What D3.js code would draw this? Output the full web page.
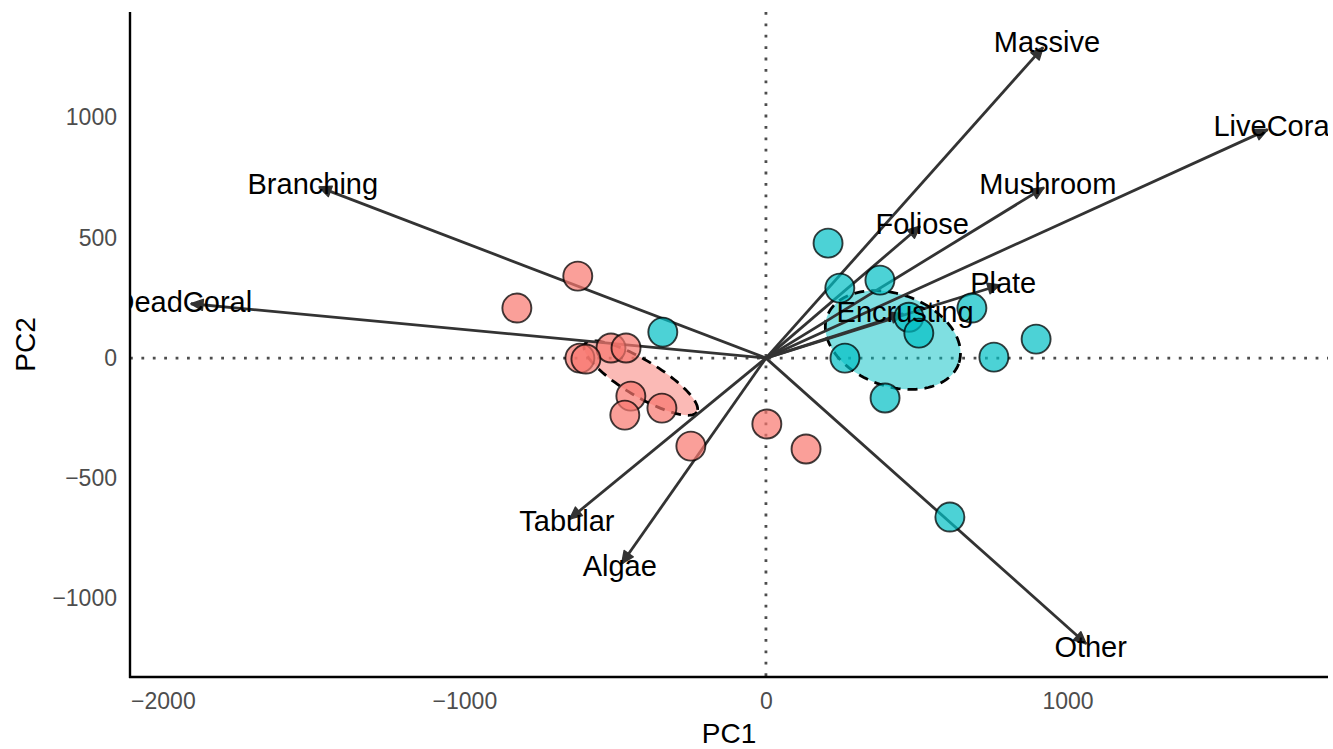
<!DOCTYPE html>
<html>
<head>
<meta charset="utf-8">
<script src="https://cdn.jsdelivr.net/npm/d3@7"></script>
<style>
  html, body { margin: 0; padding: 0; background: #ffffff; }
  svg { display: block; font-family: "Liberation Sans", Arial, Helvetica, sans-serif; }
</style>
</head>
<body>
<svg id="chart" width="1333" height="749"></svg>
<script>
// ---- PCA scores (sites), coloured by group ----
const scoresPC1 = [-624, -826, -514, -464, -617, -597, -448, -468, -345, -249, 3, 133,
                   -342, 206, 245, 378, 474, 507, 683, 262, 756, 896, 395, 610];
const scoresPC2 = [341, 208, 42, 42, 0, -4, -158, -237, -208, -366, -274, -378,
                   108, 478, 291, 324, 170, 104, 208, 0, 4, 79, -166, -661];
const scoresGroup = ["A", "A", "A", "A", "A", "A", "A", "A", "A", "A", "A", "A",
                     "B", "B", "B", "B", "B", "B", "B", "B", "B", "B", "B", "B"];

// ---- Variable loadings (biplot arrows) ----
const loadingNames = ["LiveCoral", "DeadCoral", "Algae", "Other", "Branching", "Massive",
                      "Encrusting", "Foliose", "Mushroom", "Plate", "Tabular"];
const loadingPC1 = [1664, -1907, -478, 1062, -1482, 919, 455, 511, 922, 776, -651];
const loadingPC2 = [950, 226, -854, -1188, 711, 1292, 184, 548, 709, 304, -669];
// labels sit just beyond the arrow tips
const labelScale = 1.014;

// ---- Group ellipses: centre and two semi-axis vectors, in data units ----
const ellipseGroup = ["A", "B"];
const ellipseCX = [-415, 421];
const ellipseCY = [-83, 75];
const ellipseAX = [186, 218];
const ellipseAY = [-141, -99];
const ellipseBX = [-31, -52];
const ellipseBY = [-64, -180];

// ---- Axis ticks ----
const xTicks = [-2000, -1000, 0, 1000];
const yTicks = [-1000, -500, 0, 500, 1000];

const groupColor = d3.scaleOrdinal().domain(["A", "B"]).range(["#F8766D", "#00BFC4"]);

const svg = d3.select("#chart");
const panel = { left: 130, right: 1328, top: 12, bottom: 677 };

const x = d3.scaleLinear().domain([-2109, 1864]).range([panel.left, panel.right]);
const y = d3.scaleLinear().domain([-1326, 1439]).range([panel.bottom, panel.top]);

svg.append("defs").append("clipPath").attr("id", "panel-clip")
  .append("rect")
  .attr("x", panel.left).attr("y", panel.top)
  .attr("width", panel.right - panel.left).attr("height", panel.bottom - panel.top);

const plot = svg.append("g").attr("clip-path", "url(#panel-clip)");

// reference lines through the origin
plot.append("line")
  .attr("x1", x(0)).attr("x2", x(0)).attr("y1", panel.top).attr("y2", panel.bottom)
  .attr("stroke", "#4d4d4d").attr("stroke-width", 2.8).attr("stroke-dasharray", "2.8 8.6");
plot.append("line")
  .attr("x1", panel.left).attr("x2", panel.right).attr("y1", y(0)).attr("y2", y(0))
  .attr("stroke", "#4d4d4d").attr("stroke-width", 2.8).attr("stroke-dasharray", "2.8 8.6");

// group ellipses
const tSteps = d3.range(0, 361, 3).map(d => d * Math.PI / 180);
const ellipseLine = d3.line().x(d => x(d[0])).y(d => y(d[1]));
ellipseGroup.forEach((g, i) => {
  const pts = tSteps.map(t => [
    ellipseCX[i] + ellipseAX[i] * Math.cos(t) + ellipseBX[i] * Math.sin(t),
    ellipseCY[i] + ellipseAY[i] * Math.cos(t) + ellipseBY[i] * Math.sin(t)
  ]);
  plot.append("path")
    .attr("d", ellipseLine(pts) + "Z")
    .attr("fill", groupColor(g)).attr("fill-opacity", 0.5)
    .attr("stroke", "#000").attr("stroke-width", 2.8)
    .attr("stroke-dasharray", "10 7");
});

// loading arrows
const loadings = loadingNames.map((name, i) => ({ name, pc1: loadingPC1[i], pc2: loadingPC2[i] }));
const arrows = plot.append("g");
loadings.forEach(d => {
  const x0 = x(0), y0 = y(0), x1 = x(d.pc1), y1 = y(d.pc2);
  arrows.append("line")
    .attr("x1", x0).attr("y1", y0).attr("x2", x1).attr("y2", y1)
    .attr("stroke", "#333").attr("stroke-width", 2.8);
  const ang = Math.atan2(y1 - y0, x1 - x0);
  const len = 12, half = 5.5;
  const bx = x1 - len * Math.cos(ang), by = y1 - len * Math.sin(ang);
  const px = -Math.sin(ang) * half, py = Math.cos(ang) * half;
  arrows.append("path")
    .attr("d", `M${x1},${y1}L${bx + px},${by + py}L${bx - px},${by - py}Z`)
    .attr("fill", "#333").attr("stroke", "#333").attr("stroke-width", 1.5)
    .attr("stroke-linejoin", "round");
});

// site scores
const scores = scoresPC1.map((v, i) => ({ pc1: v, pc2: scoresPC2[i], group: scoresGroup[i] }));
plot.append("g").selectAll("circle").data(scores).join("circle")
  .attr("cx", d => x(d.pc1)).attr("cy", d => y(d.pc2)).attr("r", 14.5)
  .attr("fill", d => groupColor(d.group)).attr("fill-opacity", 0.7)
  .attr("stroke", "#000").attr("stroke-opacity", 0.75).attr("stroke-width", 1.9);

// loading labels
plot.append("g").selectAll("text").data(loadings).join("text")
  .attr("x", d => x(d.pc1 * labelScale)).attr("y", d => y(d.pc2 * labelScale))
  .attr("dy", "0.32em").attr("text-anchor", "middle")
  .attr("font-size", 29).attr("fill", "#000")
  .text(d => d.name);

// axes
const fmt = d3.format("d");
const xAxis = svg.append("g").attr("transform", `translate(0,${panel.bottom})`)
  .call(d3.axisBottom(x).tickValues(xTicks).tickFormat(fmt).tickSize(0).tickPadding(16));
const yAxis = svg.append("g").attr("transform", `translate(${panel.left},0)`)
  .call(d3.axisLeft(y).tickValues(yTicks).tickFormat(fmt).tickSize(0).tickPadding(13));
[xAxis, yAxis].forEach(a => {
  a.select(".domain").remove();
  a.selectAll("text").attr("font-size", 23).attr("fill", "#4D4D4D")
    .attr("font-family", "Liberation Sans, Arial, sans-serif");
});

svg.append("line")
  .attr("x1", panel.left).attr("x2", panel.left).attr("y1", panel.top).attr("y2", panel.bottom + 1)
  .attr("stroke", "#000").attr("stroke-width", 2.4);
svg.append("line")
  .attr("x1", panel.left - 1).attr("x2", panel.right).attr("y1", panel.bottom).attr("y2", panel.bottom)
  .attr("stroke", "#000").attr("stroke-width", 2.4);

// axis titles
svg.append("text")
  .attr("x", (panel.left + panel.right) / 2).attr("y", 743)
  .attr("text-anchor", "middle").attr("font-size", 28).attr("fill", "#000")
  .text("PC1");
svg.append("text")
  .attr("transform", `translate(35,${(panel.top + panel.bottom) / 2}) rotate(-90)`)
  .attr("text-anchor", "middle").attr("font-size", 28).attr("fill", "#000")
  .text("PC2");
</script>
</body>
</html>
